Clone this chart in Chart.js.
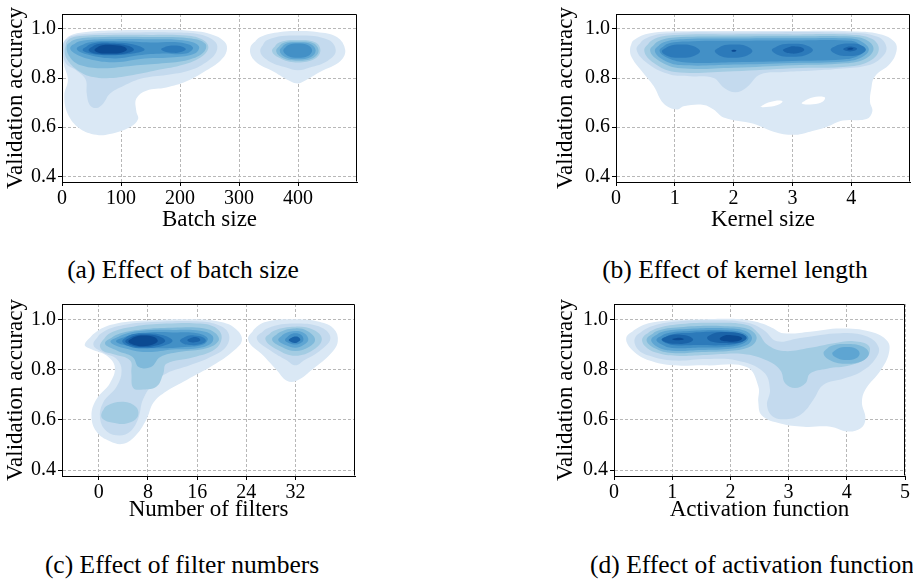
<!DOCTYPE html>
<html>
<head>
    <meta charset="UTF-8">
    <title>Validation accuracy density</title>
    <script src="https://cdn.jsdelivr.net/npm/chart.js"></script>
    <style>
        body {
            margin: 0;
            padding: 0;
            background-color: #FFFFFF;
        }
        .figure {
            position: relative;
            width: 913px;
            height: 580px;
            overflow: hidden;
        }
        .panel {
            position: absolute;
        }
        .caption {
            position: absolute;
            width: 420px;
            text-align: center;
            font-family: 'Liberation Serif', 'Times New Roman', serif;
            font-size: 25.5px;
            line-height: 30px;
            color: #000000;
        }
    </style>
</head>
<body>
<div class="figure">
    <div class="panel" style="left:0px; top:0px;"><canvas id="batch-chart" width="360" height="240"></canvas></div>
    <div class="panel" style="left:550px; top:0px;"><canvas id="kernel-chart" width="363" height="240"></canvas></div>
    <div class="panel" style="left:0px; top:290px;"><canvas id="filter-chart" width="360" height="240"></canvas></div>
    <div class="panel" style="left:550px; top:290px;"><canvas id="activation-chart" width="363" height="240"></canvas></div>
    <div class="caption" style="left:-27px; top:255px;">(a) Effect of batch size</div>
    <div class="caption" style="left:525px; top:255px;">(b) Effect of kernel length</div>
    <div class="caption" style="left:-28px; top:550px;">(c) Effect of filter numbers</div>
    <div class="caption" style="left:542px; top:550px;">(d) Effect of activation function</div>
</div>

<script>
    // Tick values
    const accTicks = [0.4, 0.6, 0.8, 1.0];
    const batchTicks = [0, 100, 200, 300, 400];
    const kernelTicks = [0, 1, 2, 3, 4];
    const filterTicks = [0, 8, 16, 24, 32];
    const activationTicks = [0, 1, 2, 3, 4, 5];

    // Density contours: [level, [[x, accuracy], ...]]
    // level 0 = hole (background), 1 = lightest ... 9 = darkest
    const batchShapes = [
        [1, [[2,0.93],[5,0.955],[16,0.976],[41,0.988],[92,0.995],[149,0.996],[211,0.994],[251,0.98],[276,0.947],[279,0.909],[268,0.87],[245,0.832],[211,0.787],[177,0.762],[143,0.749],[126,0.717],[126,0.665],[129,0.633],[116,0.601],[81,0.572],[58,0.569],[30,0.595],[10,0.653],[4,0.729],[10,0.794],[3,0.858]]],
        [1, [[319,0.922],[336,0.967],[370,0.988],[400,0.992],[432,0.988],[466,0.967],[480,0.915],[472,0.87],[438,0.826],[410,0.787],[400,0.778],[387,0.787],[359,0.826],[327,0.87]]],
        [2, [[3,0.947],[16,0.971],[53,0.982],[121,0.986],[189,0.986],[234,0.978],[260,0.947],[262,0.909],[248,0.871],[217,0.832],[177,0.813],[138,0.8],[104,0.768],[81,0.736],[70,0.697],[58,0.678],[47,0.691],[42,0.736],[40,0.794],[24,0.832],[7,0.858],[2,0.909]]],
        [2, [[336,0.91],[348,0.955],[400,0.973],[452,0.955],[464,0.91],[450,0.87],[420,0.843],[400,0.832],[380,0.843],[350,0.87]]],
        [3, [[4.5,0.909],[10,0.954],[30,0.971],[81,0.976],[149,0.976],[211,0.973],[240,0.954],[248,0.922],[234,0.883],[200,0.851],[160,0.832],[121,0.813],[81,0.8],[53,0.804],[30,0.826],[10,0.871]]],
        [3, [[356,0.91],[368,0.945],[400,0.955],[430,0.945],[438,0.91],[428,0.878],[400,0.864],[372,0.878]]],
        [4, [[8,0.93],[20,0.955],[60,0.966],[150,0.967],[215,0.962],[243,0.94],[240,0.905],[215,0.875],[170,0.86],[120,0.85],[70,0.84],[35,0.85],[15,0.88]]],
        [4, [[363,0.911],[374,0.942],[400,0.949],[426,0.942],[435,0.911],[426,0.882],[400,0.871],[374,0.882]]],
        [5, [[14,0.925],[30,0.95],[80,0.958],[150,0.958],[210,0.952],[232,0.93],[225,0.9],[190,0.885],[140,0.88],[90,0.865],[50,0.875],[22,0.9]]],
        [5, [[369,0.912],[378,0.938],[400,0.945],[422,0.938],[430,0.912],[422,0.886],[400,0.877],[378,0.886]]],
        [6, [[25,0.92],[45,0.945],[100,0.95],[150,0.945],[200,0.945],[222,0.925],[210,0.9],[170,0.9],[130,0.893],[90,0.88],[45,0.895]]],
        [6, [[375,0.912],[383,0.934],[400,0.941],[417,0.934],[424,0.912],[417,0.89],[400,0.883],[383,0.89]]],
        [7, [[35,0.915],[50,0.94],[85,0.945],[125,0.935],[140,0.915],[120,0.9],[80,0.893],[48,0.9]]],
        [7, [[168,0.918],[178,0.93],[190,0.933],[204,0.928],[210,0.917],[200,0.905],[188,0.903],[175,0.907]]],
        [8, [[45,0.915],[58,0.937],[85,0.94],[112,0.932],[122,0.915],[108,0.9],[82,0.896],[55,0.9]]],
        [9, [[55,0.915],[65,0.932],[85,0.935],[105,0.928],[110,0.915],[100,0.903],[80,0.9],[62,0.903]]]
    ];

    const kernelShapes = [
        [1, [[0.24,0.922],[0.3,0.954],[0.58,0.983],[1.15,0.991],[2.0,0.992],[3.02,0.992],[3.98,0.991],[4.49,0.979],[4.74,0.947],[4.77,0.909],[4.66,0.858],[4.4,0.806],[4.34,0.755],[4.32,0.704],[4.36,0.665],[4.26,0.633],[3.86,0.627],[3.58,0.601],[3.3,0.582],[3.02,0.569],[2.68,0.582],[2.34,0.614],[1.83,0.64],[1.66,0.672],[1.49,0.691],[1.15,0.685],[1.04,0.672],[0.81,0.697],[0.64,0.768],[0.47,0.819],[0.27,0.883]]],
        [0, [[2.46,0.683],[2.55,0.697],[2.7,0.707],[2.83,0.706],[2.78,0.694],[2.6,0.683]]],
        [0, [[3.16,0.697],[3.25,0.713],[3.4,0.724],[3.55,0.722],[3.52,0.705],[3.35,0.694]]],
        [2, [[0.35,0.915],[0.48,0.958],[0.85,0.982],[2.0,0.986],[3.98,0.985],[4.45,0.968],[4.6,0.925],[4.5,0.88],[4.25,0.85],[3.8,0.838],[3.3,0.83],[2.85,0.825],[2.45,0.815],[2.22,0.762],[2.03,0.742],[1.83,0.762],[1.66,0.8],[1.26,0.808],[0.92,0.815],[0.58,0.852]]],
        [3, [[0.48,0.912],[0.62,0.955],[1.0,0.975],[2.0,0.978],[3.0,0.978],[4.0,0.977],[4.35,0.96],[4.47,0.92],[4.35,0.875],[4.0,0.848],[3.0,0.84],[2.0,0.828],[1.0,0.825],[0.65,0.86]]],
        [4, [[0.58,0.912],[0.72,0.95],[1.1,0.967],[2.0,0.969],[3.0,0.97],[4.0,0.969],[4.28,0.952],[4.38,0.918],[4.25,0.88],[3.9,0.86],[3.0,0.852],[2.0,0.842],[1.1,0.84],[0.75,0.868]]],
        [5, [[0.66,0.912],[0.8,0.945],[1.2,0.959],[2.0,0.961],[3.0,0.962],[4.0,0.961],[4.2,0.945],[4.3,0.915],[4.18,0.885],[3.9,0.868],[3.0,0.862],[2.0,0.855],[1.1,0.853],[0.8,0.875]]],
        [6, [[0.74,0.912],[0.88,0.94],[1.3,0.95],[2.0,0.952],[3.0,0.953],[4.0,0.952],[4.15,0.935],[4.22,0.912],[4.1,0.888],[3.85,0.876],[3.0,0.87],[2.0,0.865],[1.2,0.864],[0.88,0.882]]],
        [7, [[0.78,0.909],[0.9,0.93],[1.1,0.937],[1.3,0.932],[1.43,0.909],[1.3,0.888],[1.1,0.883],[0.9,0.888]]],
        [7, [[1.68,0.91],[1.8,0.931],[2.0,0.937],[2.2,0.932],[2.32,0.91],[2.2,0.889],[2.0,0.883],[1.8,0.888]]],
        [7, [[2.65,0.914],[2.78,0.934],[3.0,0.94],[3.22,0.935],[3.35,0.914],[3.22,0.893],[3.0,0.887],[2.78,0.892]]],
        [7, [[3.65,0.916],[3.77,0.935],[3.97,0.941],[4.15,0.936],[4.25,0.916],[4.15,0.896],[3.97,0.89],[3.77,0.895]]],
        [8, [[2.84,0.915],[2.95,0.927],[3.05,0.929],[3.17,0.924],[3.2,0.913],[3.1,0.902],[2.98,0.9],[2.88,0.905]]],
        [8, [[3.86,0.918],[3.93,0.927],[4.02,0.928],[4.1,0.92],[4.03,0.91],[3.93,0.91]]],
        [9, [[1.96,0.911],[2.0,0.915],[2.05,0.911],[2.0,0.907]]],
        [9, [[3.93,0.919],[3.98,0.924],[4.04,0.92],[3.98,0.915]]]
    ];

    const filterShapes = [
        [1, [[-2.3,0.9],[-0.4,0.951],[2.9,0.983],[8.3,0.996],[15.4,1.0],[19.7,0.99],[22.2,0.964],[23.3,0.919],[21.9,0.874],[18.6,0.817],[14.3,0.759],[11,0.714],[8.9,0.669],[7.8,0.605],[6.1,0.541],[4,0.505],[1.8,0.515],[-0.4,0.554],[-1.2,0.618],[-0.4,0.682],[1.8,0.746],[2.6,0.81],[1.3,0.855],[-1.2,0.881]]],
        [1, [[24.3,0.919],[25.7,0.971],[28.4,0.996],[31.7,1.0],[35.5,0.992],[38.2,0.964],[38.9,0.913],[37.7,0.862],[34.9,0.804],[32.2,0.756],[30.6,0.756],[29,0.797],[26.8,0.855]]],
        [2, [[-0.9,0.9],[0.4,0.945],[4,0.977],[9.4,0.99],[15.9,0.992],[19.2,0.979],[21.1,0.945],[20.8,0.894],[18.6,0.855],[14.8,0.817],[11,0.785],[8.9,0.746],[7.2,0.682],[6.4,0.605],[5.1,0.554],[3.4,0.538],[1.3,0.554],[0.2,0.605],[0.7,0.669],[2.9,0.733],[3.7,0.797],[2.9,0.842],[0.7,0.868]]],
        [2, [[25.7,0.925],[27.5,0.965],[32,0.983],[36.3,0.967],[37.7,0.925],[36,0.875],[33.5,0.838],[32,0.817],[30.5,0.838],[28,0.875]]],
        [3, [[0.2,0.9],[1.8,0.945],[5.6,0.971],[11,0.983],[16.5,0.983],[19.2,0.964],[20,0.926],[18.9,0.881],[15.4,0.849],[11,0.823],[10.5,0.785],[9.4,0.733],[7.2,0.721],[5.6,0.727],[5.3,0.785],[5.1,0.836],[2.3,0.862],[0.7,0.874]]],
        [3, [[0.4,0.624],[1.3,0.656],[4,0.672],[6.1,0.65],[6.3,0.612],[4.5,0.586],[2.1,0.59],[0.7,0.603]]],
        [3, [[27.1,0.922],[28.5,0.955],[32,0.971],[35,0.958],[36.3,0.922],[35,0.88],[32,0.855],[29,0.88]]],
        [4, [[1.0,0.905],[3,0.94],[7,0.96],[12,0.967],[17,0.965],[19,0.945],[19.5,0.915],[17.5,0.885],[13,0.87],[10,0.85],[8.5,0.81],[6.5,0.81],[5.5,0.85],[3,0.875]]],
        [4, [[28.2,0.92],[29.5,0.95],[32,0.964],[34,0.953],[35.2,0.92],[34.2,0.89],[32,0.874],[29.8,0.89]]],
        [5, [[1.9,0.91],[4,0.94],[7,0.955],[12,0.958],[16.5,0.955],[18.5,0.935],[18.3,0.905],[16,0.885],[12,0.88],[8,0.87],[5,0.88]]],
        [5, [[29.2,0.918],[30.2,0.943],[32,0.954],[33.5,0.944],[34.1,0.918],[33.3,0.898],[32,0.887],[30.5,0.897]]],
        [6, [[2.8,0.912],[5,0.937],[8,0.948],[12,0.948],[16,0.945],[17.7,0.925],[17,0.9],[14,0.89],[10,0.885],[6,0.89]]],
        [6, [[30.3,0.918],[31,0.937],[32,0.945],[33,0.937],[33.3,0.918],[32.8,0.905],[32,0.9],[31,0.905]]],
        [7, [[3.8,0.913],[5,0.937],[7.5,0.945],[10.5,0.937],[12,0.915],[10.5,0.895],[7.5,0.885],[5,0.892]]],
        [7, [[13.2,0.917],[14.2,0.932],[15.5,0.936],[17,0.928],[17.4,0.913],[16.3,0.9],[14.8,0.898],[13.7,0.904]]],
        [8, [[4.3,0.913],[5.5,0.933],[7.5,0.94],[9.8,0.933],[10.8,0.914],[9.5,0.897],[7.3,0.89],[5.5,0.895]]],
        [8, [[14.4,0.918],[15.2,0.928],[16.2,0.927],[16.5,0.916],[15.6,0.909],[14.8,0.91]]],
        [8, [[30.9,0.918],[31.5,0.929],[32,0.932],[32.5,0.929],[32.8,0.918],[32.4,0.91],[32,0.906],[31.3,0.91]]],
        [9, [[4.8,0.913],[5.8,0.93],[7.3,0.936],[9,0.93],[9.6,0.914],[8.8,0.9],[7.2,0.893],[5.8,0.898]]]
    ];

    const activationShapes = [
        [1, [[0.21,0.926],[0.39,0.964],[0.73,0.99],[1.48,1.0],[2.05,1.002],[2.4,0.992],[2.68,0.971],[2.91,0.945],[3.37,0.951],[3.89,0.964],[4.41,0.951],[4.7,0.913],[4.72,0.862],[4.58,0.797],[4.32,0.721],[4.26,0.669],[4.32,0.605],[4.24,0.567],[4.01,0.554],[3.72,0.573],[3.26,0.573],[2.86,0.586],[2.54,0.618],[2.48,0.669],[2.48,0.733],[2.28,0.81],[1.59,0.817],[1.02,0.817],[0.61,0.836],[0.33,0.874]]],
        [2, [[0.36,0.926],[0.56,0.964],[1.02,0.99],[1.76,0.996],[2.28,0.987],[2.57,0.958],[2.8,0.913],[3.2,0.926],[3.89,0.945],[4.35,0.932],[4.55,0.887],[4.47,0.836],[4.24,0.791],[3.95,0.765],[3.6,0.74],[3.43,0.682],[3.26,0.631],[3.03,0.605],[2.74,0.612],[2.63,0.656],[2.68,0.721],[2.57,0.791],[2.11,0.836],[1.59,0.842],[1.02,0.836],[0.61,0.855],[0.41,0.881]]],
        [3, [[0.49,0.926],[0.67,0.958],[1.07,0.979],[1.76,0.986],[2.28,0.977],[2.48,0.945],[2.63,0.9],[2.91,0.874],[3.37,0.887],[3.78,0.905],[4.12,0.913],[4.38,0.894],[4.35,0.849],[4.06,0.817],[3.66,0.804],[3.37,0.785],[3.29,0.746],[3.11,0.727],[2.94,0.746],[2.86,0.797],[2.63,0.836],[2.22,0.862],[1.59,0.858],[1.07,0.855],[0.72,0.868],[0.53,0.894]]],
        [4, [[0.56,0.92],[0.75,0.955],[1.2,0.97],[1.9,0.973],[2.3,0.962],[2.45,0.93],[2.35,0.893],[2.0,0.875],[1.5,0.87],[1.0,0.866],[0.7,0.885]]],
        [4, [[3.6,0.866],[3.72,0.893],[4.0,0.902],[4.26,0.893],[4.38,0.866],[4.28,0.836],[4.0,0.823],[3.72,0.836]]],
        [5, [[0.64,0.92],[0.82,0.95],[1.25,0.962],[1.9,0.965],[2.25,0.955],[2.37,0.928],[2.28,0.898],[1.95,0.882],[1.5,0.878],[1.0,0.875],[0.75,0.89]]],
        [5, [[3.75,0.864],[3.84,0.883],[4.0,0.89],[4.16,0.883],[4.22,0.864],[4.16,0.845],[4.0,0.838],[3.84,0.845]]],
        [6, [[0.73,0.92],[0.9,0.944],[1.3,0.954],[1.9,0.957],[2.2,0.948],[2.31,0.926],[2.2,0.902],[1.9,0.89],[1.5,0.888],[1.0,0.886],[0.82,0.9]]],
        [7, [[0.82,0.92],[0.98,0.94],[1.35,0.947],[1.9,0.951],[2.15,0.943],[2.25,0.925],[2.15,0.906],[1.85,0.897],[1.45,0.898],[1.05,0.897],[0.9,0.905]]],
        [8, [[0.82,0.921],[0.95,0.936],[1.15,0.939],[1.3,0.932],[1.36,0.918],[1.25,0.905],[1.05,0.903],[0.9,0.908]]],
        [8, [[1.6,0.928],[1.72,0.945],[1.97,0.949],[2.2,0.942],[2.28,0.926],[2.18,0.909],[1.9,0.906],[1.67,0.912]]],
        [9, [[1.0,0.922],[1.08,0.926],[1.17,0.925],[1.2,0.921],[1.12,0.917],[1.03,0.918]]],
        [9, [[1.82,0.926],[1.9,0.936],[2.02,0.937],[2.17,0.931],[2.2,0.922],[2.08,0.912],[1.9,0.913],[1.83,0.918]]]
    ];

    // Blues colour ramp, index = contour level
    const levelColors = ['#FFFFFF', '#dae8f5', '#c4daee', '#a3cce3', '#7fb9da', '#5ea5d2',
        '#4390c6', '#2c7aba', '#1a63a8', '#0b4a92'];

    const tickFont = {family: "'Liberation Serif', 'Times New Roman', serif", size: 20};
    const titleFont = {family: "'Liberation Serif', 'Times New Roman', serif", size: 23};

    // Draws the top and right spines of the plot box
    const framePlugin = {
        id: 'frame',
        afterDraw(chart) {
            const {ctx, chartArea} = chart;
            const l = Math.round(chartArea.left) + 0.5;
            const t = Math.round(chartArea.top) + 0.5;
            const r = Math.round(chartArea.right) - 0.5;
            const b = Math.round(chartArea.bottom) - 0.5;
            ctx.save();
            ctx.strokeStyle = '#000000';
            ctx.lineWidth = 1;
            ctx.beginPath();
            ctx.moveTo(l, t);
            ctx.lineTo(r, t);
            ctx.lineTo(r, b);
            ctx.stroke();
            ctx.restore();
        }
    };

    function createChart(canvasId, shapes, xTicks, xMin, xMax, xTitle, box) {
        const canvas = document.getElementById(canvasId);
        const W = canvas.width;
        const H = canvas.height;

        // each closed contour becomes a filled scatter line
        const datasets = shapes.map(([level, pts], i) => {
            const closed = pts.concat([pts[0], pts[1]]);
            return {
                data: closed.map(p => ({x: p[0], y: p[1]})),
                showLine: true,
                fill: 'shape',
                backgroundColor: levelColors[level],
                borderColor: 'transparent',
                borderWidth: 0,
                pointRadius: 0,
                tension: 0.4,
                order: -i
            };
        });

        new Chart(canvas.getContext('2d'), {
            type: 'scatter',
            data: {datasets: datasets},
            options: {
                responsive: false,
                animation: false,
                events: [],
                layout: {padding: {left: 0, top: box.top, right: W - box.right, bottom: 0}},
                plugins: {legend: {display: false}, tooltip: {enabled: false}},
                scales: {
                    x: {
                        type: 'linear',
                        min: xMin,
                        max: xMax,
                        afterBuildTicks: s => { s.ticks = xTicks.map(v => ({value: v})); },
                        afterFit: s => { s.height = H - box.bottom; },
                        grid: {color: '#b8b8b8', lineWidth: 1, tickLength: 4, tickColor: '#000000', tickWidth: 1},
                        border: {display: true, color: '#000000', width: 1, dash: [3, 2], z: 1},
                        ticks: {color: '#000000', font: tickFont, padding: 1, maxRotation: 0, minRotation: 0,
                            autoSkip: false, callback: v => String(v)},
                        title: {display: true, text: xTitle, color: '#000000', font: titleFont,
                            padding: {top: 0, bottom: 6}}
                    },
                    y: {
                        type: 'linear',
                        min: 0.377,
                        max: 1.061,
                        afterBuildTicks: s => { s.ticks = accTicks.map(v => ({value: v})); },
                        afterFit: s => { s.width = box.left; },
                        grid: {color: '#b8b8b8', lineWidth: 1, tickLength: 4, tickColor: '#000000', tickWidth: 1},
                        border: {display: true, color: '#000000', width: 1, dash: [3, 2], z: 1},
                        ticks: {color: '#000000', font: tickFont, padding: 2, autoSkip: false,
                            callback: v => v.toFixed(1)},
                        title: {display: true, text: 'Validation accuracy', color: '#000000', font: titleFont,
                            padding: {top: 2, bottom: 0}}
                    }
                }
            },
            plugins: [framePlugin]
        });
    }

    createChart('batch-chart', batchShapes, batchTicks, 0, 500, 'Batch size',
        {left: 62, top: 4, right: 357, bottom: 182});
    createChart('kernel-chart', kernelShapes, kernelTicks, 0, 5, 'Kernel size',
        {left: 66, top: 4, right: 360, bottom: 182});
    createChart('filter-chart', filterShapes, filterTicks, -6, 41.7, 'Number of filters',
        {left: 62, top: 8, right: 355, bottom: 186});
    createChart('activation-chart', activationShapes, activationTicks, 0, 5, 'Activation function',
        {left: 64, top: 8, right: 355, bottom: 186});
</script>
</body>
</html>
